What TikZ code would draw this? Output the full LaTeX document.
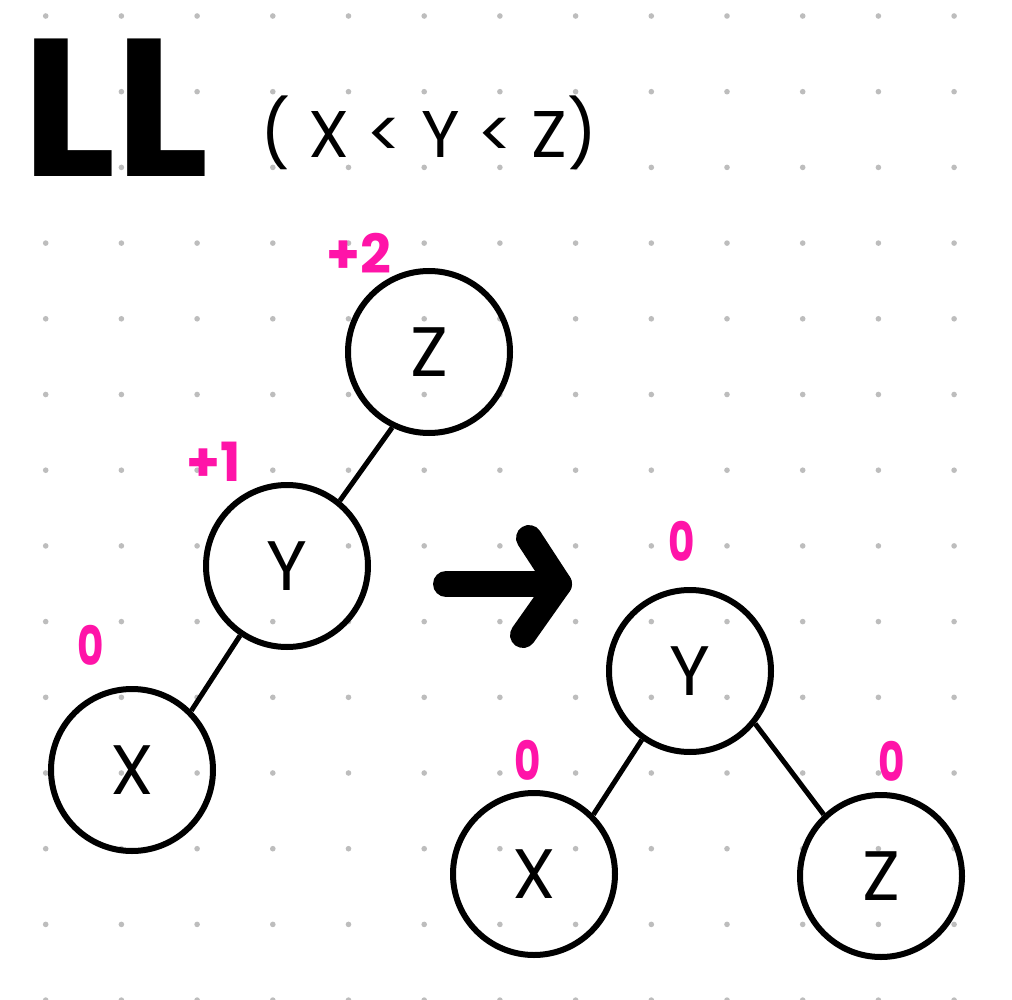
\documentclass[tikz,border=0pt]{standalone}
\usepackage{fontspec}
\newfontfamily\hand{Poppins}
\definecolor{pinkmark}{HTML}{FF14A8}
\definecolor{dotgrey}{HTML}{BDBDBD}
\begin{document}
\begin{tikzpicture}[x=1pt,y=-1pt,
  treenode/.style={circle, draw=black, line width=6pt, minimum size=162pt, inner sep=0pt, font=\hand\fontsize{70}{70}\selectfont},
  edge/.style={draw=black, line width=5pt},
  balance/.style={text=pinkmark, font=\hand\bfseries\fontsize{54}{54}\selectfont, inner sep=0pt},
  zerolabel/.style={balance, xscale=0.75},
  bigarrow/.style={draw=black, line width=26pt, line cap=round, line join=round}]
\fill[white] (0,0) rectangle (1012,1000);
\useasboundingbox (0,0) rectangle (1012,1000);
\foreach \i in {0,...,12} \foreach \j in {0,...,13} \fill[dotgrey] (45.7+75.7*\i, 16+75.7*\j) circle (2.8pt);
% title
\node[font=\hand\bfseries\fontsize{196}{196}\selectfont, inner sep=0pt] (title) at (116,108) {LL};
\node[font=\hand\fontsize{66}{66}\selectfont, inner sep=0pt, anchor=base] (cond) at (429,158) {( X < Y < Z)};
% left tree
\node[treenode] (lZ) at (429,352) {Z};
\node[treenode] (lY) at (287,566) {Y};
\node[treenode] (lX) at (132,770) {X};
\draw[edge] (lZ.244) -- (lY.51);
\draw[edge] (lY.236) -- (lX.45);
\node[balance] (bLZ) at (359,253) {+2};
\node[balance] (bLY) at (214,462) {+1};
\node[zerolabel] (bLX) at (91,645) {0};
% arrow
\coordinate (aTail) at (446,584);
\coordinate (aTip) at (559,584);
\coordinate (aUp) at (529,538);
\coordinate (aDn) at (523,635);
\draw[bigarrow] (aTail) -- (aTip);
\draw[bigarrow] (aUp) -- (aTip) -- (aDn);
% right tree
\node[treenode] (rY) at (690,671) {Y};
\node[treenode] (rX) at (534,874) {X};
\node[treenode] (rZ) at (881,876) {Z};
\draw[edge] (rY.235) -- (rX.45);
\draw[edge] (rY.-39) -- (rZ.133);
\node[zerolabel] (bRY) at (682,541) {0};
\node[zerolabel] (bRX) at (528,760) {0};
\node[zerolabel] (bRZ) at (892,761) {0};
\end{tikzpicture}
\end{document}
